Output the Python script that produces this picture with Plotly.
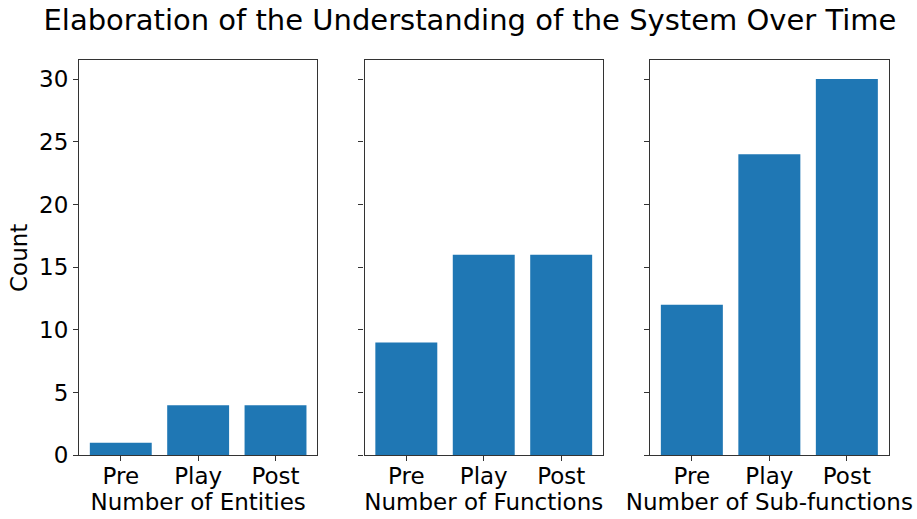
import plotly.graph_objects as go
from plotly.subplots import make_subplots

categories = ["Pre", "Play", "Post"]
entities = [1, 4, 4]
functions = [9, 16, 16]
subfunctions = [12, 24, 30]
panel_titles = ["Number of Entities", "Number of Functions", "Number of Sub-functions"]
y_ticks = [0, 5, 10, 15, 20, 25, 30]

W, H = 917, 519
fig = make_subplots(rows=1, cols=3, shared_yaxes=True)

series = [entities, functions, subfunctions]
for i, vals in enumerate(series):
    fig.add_trace(go.Bar(x=categories, y=vals, marker_color="#1f77b4",
                         marker_line_width=0, width=0.8, showlegend=False),
                  row=1, col=i + 1)

xdomains = [(79, 317.3), (364.5, 603), (650, 888.7)]
ytop, ybot = 60.3, 455.3
font = "DejaVu Sans, Arial, sans-serif"
fs = 23
for i, (a, b) in enumerate(xdomains):
    xa = "xaxis" if i == 0 else f"xaxis{i+1}"
    ya = "yaxis" if i == 0 else f"yaxis{i+1}"
    fig.layout[xa].update(
        domain=[a / W, b / W], range=[-0.54, 2.54], showline=True, mirror=True,
        linecolor="#333", linewidth=1.2, ticks="outside", ticklen=5, tickwidth=1.2,
        tickcolor="#333", showgrid=False, zeroline=False, automargin=False,
        ticklabelstandoff=-5,
        tickfont=dict(family=font, size=fs, color="black"),
        title=dict(text=panel_titles[i], font=dict(family=font, size=fs, color="black"),
                   standoff=2),
    )
    fig.layout[ya].update(
        domain=[(H - ybot) / H, (H - ytop) / H], range=[0, 31.5], showline=True,
        mirror=True, linecolor="#333", linewidth=1.2, ticks="outside", ticklen=5,
        tickwidth=1.2, tickcolor="#333", showgrid=False, zeroline=False,
        automargin=False, tickvals=y_ticks, showticklabels=(i == 0),
        tickfont=dict(family=font, size=fs, color="black"),
    )

fig.layout.yaxis.title = dict(text="Count", font=dict(family=font, size=fs, color="black"),
                              standoff=4)

fig.update_layout(
    width=W, height=H, margin=dict(l=0, r=0, t=0, b=0, autoexpand=False),
    plot_bgcolor="white", paper_bgcolor="white",
    title=dict(text="Elaboration of the Understanding of the System Over Time",
               x=470 / W, xanchor="center", y=1 - 20 / H, yanchor="middle",
               font=dict(family=font, size=29, color="black")),
    bargap=0.2,
)

fig.write_html("out.html")
